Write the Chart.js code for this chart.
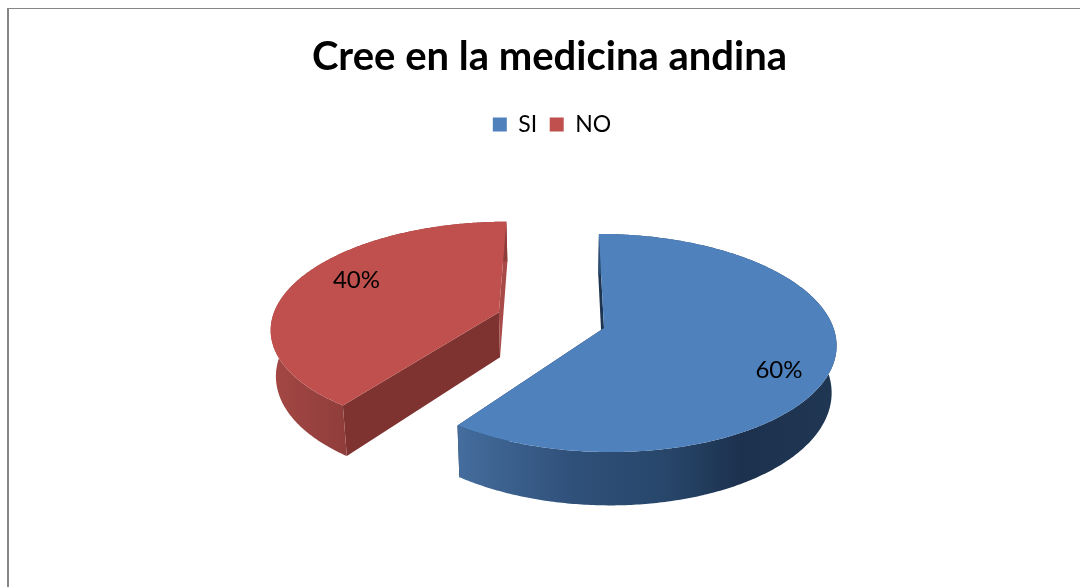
<!DOCTYPE html>
<html lang="es">
<head>
    <meta charset="UTF-8" />
    <title>Cree en la medicina andina</title>
    <style>
        html, body { margin: 0; padding: 0; background: #ffffff; overflow: hidden; }
        #wrap { position: relative; width: 1080px; height: 587px; }
        /* the chart frame: only its top and left sides are in the picture */
        #frame {
            position: absolute; left: 7px; top: 8px; right: 0; bottom: 0;
            border-left: 2px solid #868686; border-top: 1px solid #868686;
        }
        canvas { position: absolute; left: 0; top: 0; }
    </style>
</head>
<body>
<div id="wrap">
    <div id="frame"></div>
    <canvas id="chart" width="1080" height="587"></canvas>
</div>
<script src="https://cdn.jsdelivr.net/npm/chart.js"></script>
<script>
    const categories = ["SI", "NO"];
    const values = [60, 40];
    const titleText = "Cree en la medicina andina";
    const colors = ["#4f81bd", "#c0504d"];
    const startFaceColors = ["#1e3552", "#7e3331"]; // face at the start angle of each slice
    const endFaceColors = ["#1e3552", "#a84a47"];   // face at the end angle of each slice
    const labelRadius = [0.805, 0.75];              // label distance from slice tip
    const labelTurn = [9.5, 8];                     // label angle past the middle, degrees

    // perspective of the disc plane, the look of the original 3D pie
    const vanishX = 562, persp = 0.1375;
    const planeX = 550.8, planeY = 328, planeR = 229.5, planeK = 107, planeV = 0.0753;
    const wallH = 46, wallPull = 0.018;

    function project(u, v, down) {
        const w = v + planeV;
        const s = 1 / (1 + persp * w);
        let x = vanishX + (planeX + u * planeR - vanishX) * s;
        let y = planeY - planeK * w * s;
        if (down) {
            x += (vanishX - x) * wallPull;
            y += wallH * s;
        }
        return [x, y];
    }

    function wallGradient(ctx, i) {
        if (i === 0) {
            const g = ctx.createLinearGradient(461, 0, 836, 0);
            g.addColorStop(0, "#446c9c");
            g.addColorStop(0.3, "#2f5079");
            g.addColorStop(0.55, "#27466a");
            g.addColorStop(0.75, "#1c314e");
            g.addColorStop(1, "#203753");
            return g;
        }
        const g = ctx.createLinearGradient(273, 0, 347, 0);
        g.addColorStop(0, "#a34744");
        g.addColorStop(1, "#8f3d3b");
        return g;
    }

    function fillPoly(ctx, pts, fill) {
        ctx.beginPath();
        pts.forEach((p, n) => n ? ctx.lineTo(p[0], p[1]) : ctx.moveTo(p[0], p[1]));
        ctx.closePath();
        ctx.fillStyle = fill;
        ctx.fill();
    }

    // draws the library's arcs (angles, radius, offset) on the tilted plane
    const pie3d = {
        id: "pie3d",
        afterLayout(chart) {
            chart.legend.left += 5; // legend sits a little right of the title centre
        },
        beforeDatasetsDraw(chart) {
            const ctx = chart.ctx;
            const total = values.reduce((a, b) => a + b, 0);
            chart.getDatasetMeta(0).data.forEach((arc, i) => {
                const mid = (arc.startAngle + arc.endAngle) / 2;
                const off = arc.options.offset / arc.outerRadius;
                const ou = Math.cos(mid) * off, ov = -Math.sin(mid) * off;
                const rim = [], rimDown = [];
                const steps = Math.ceil((arc.endAngle - arc.startAngle) * 90);
                for (let n = 0; n <= steps; n++) {
                    const a = arc.startAngle + (arc.endAngle - arc.startAngle) * n / steps;
                    rim.push(project(ou + Math.cos(a), ov - Math.sin(a), false));
                    rimDown.push(project(ou + Math.cos(a), ov - Math.sin(a), true));
                }
                const tip = project(ou, ov, false), tipDown = project(ou, ov, true);

                fillPoly(ctx, [rim[0], tip, tipDown, rimDown[0]], startFaceColors[i]);
                fillPoly(ctx, [rim[steps], tip, tipDown, rimDown[steps]], endFaceColors[i]);
                fillPoly(ctx, rim.concat(rimDown.slice().reverse()), wallGradient(ctx, i));
                fillPoly(ctx, [tip].concat(rim), colors[i]);
            });
            chart.getDatasetMeta(0).data.forEach((arc, i) => {
                const mid = (arc.startAngle + arc.endAngle) / 2;
                const off = arc.options.offset / arc.outerRadius;
                const a = mid + labelTurn[i] * Math.PI / 180;
                const p = project(Math.cos(mid) * off + Math.cos(a) * labelRadius[i],
                    -Math.sin(mid) * off - Math.sin(a) * labelRadius[i], false);
                ctx.font = "24px Lato";
                ctx.fillStyle = "#000000";
                ctx.textAlign = "center";
                ctx.textBaseline = "middle";
                ctx.fillText(Math.round(values[i] / total * 100) + "%", p[0], p[1]);
            });
            return false;
        }
    };

    new Chart(document.getElementById("chart"), {
        type: "pie",
        data: {
            labels: categories,
            datasets: [{ data: values, backgroundColor: colors, borderWidth: 0, offset: 39 }]
        },
        options: {
            responsive: false,
            animation: false,
            radius: 160,
            layout: { padding: { left: 19, top: 8 } },
            plugins: {
                title: {
                    display: true,
                    text: titleText,
                    color: "#000000",
                    font: { family: "Lato", size: 40, weight: "bold" },
                    padding: { top: 25, bottom: 19.5 }
                },
                legend: {
                    position: "top",
                    labels: {
                        color: "#000000",
                        font: { family: "Lato", size: 23 },
                        boxWidth: 14,
                        boxHeight: 14,
                        padding: 12.5
                    }
                },
                tooltip: { enabled: false }
            }
        },
        plugins: [pie3d]
    });
</script>
</body>
</html>
